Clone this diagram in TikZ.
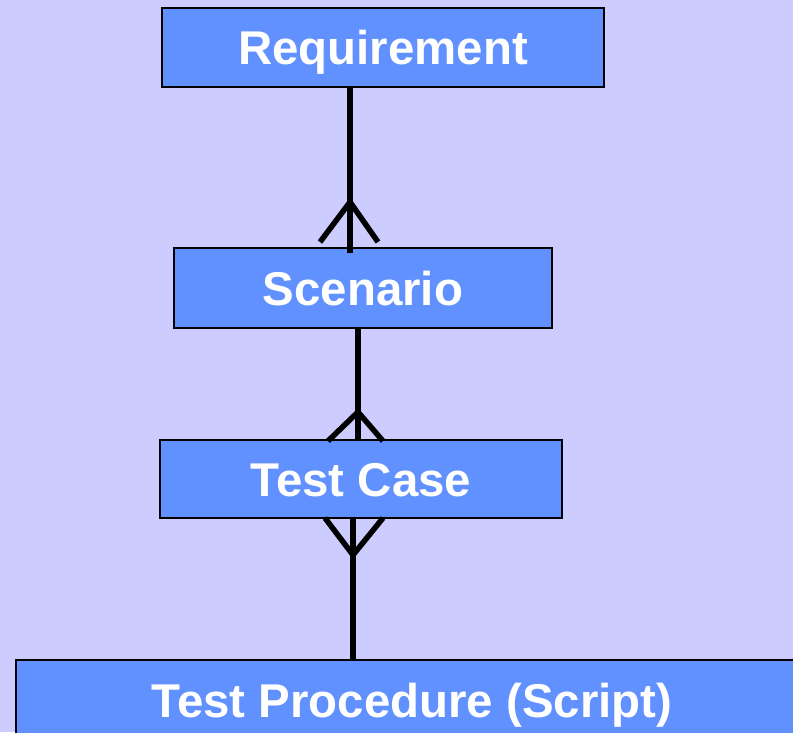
\documentclass[tikz,border=0pt]{standalone}
\usepackage{fontspec}
\setmainfont{Liberation Sans}
\definecolor{bgcol}{HTML}{CCCCFF}
\definecolor{boxcol}{HTML}{6191FF}
\begin{document}
\begin{tikzpicture}[x=1pt,y=-1pt,
  entity/.style={draw=black,line width=2pt,fill=boxcol,inner sep=0pt,
    text height=34pt,text depth=0pt,
    text=white,font=\fontsize{47.4}{50}\selectfont\bfseries},
  link/.style={draw=black,line width=5.5pt}]
  \useasboundingbox (0,0) rectangle (793,732);
  \clip (0,0) rectangle (793,732);
  \fill[bgcol] (0,0) rectangle (793,732);

  % entities
  \node[entity,minimum width=442pt,minimum height=79pt] (req) at (383,47.5) {Requirement};
  \node[entity,minimum width=378pt,minimum height=80pt] (scen) at (363,288) {Scenario};
  \node[entity,minimum width=402pt,minimum height=78pt] (tc) at (361,479) {Test Case};
  \node[entity,minimum width=792pt,minimum height=80pt] (tp) at (412,700) {Test Procedure (Script)};

  % connector columns
  \coordinate (c1) at (350,0);
  \coordinate (c2) at (358,0);
  \coordinate (c3) at (353,0);

  % Requirement -- Scenario (many at Scenario)
  \draw[link] (req.south -| c1) -- ([yshift=-6pt]scen.north -| c1);
  \coordinate (a1) at (350,202);
  \draw[link] (a1) -- (320,242);
  \draw[link] (a1) -- (378,242);

  % Scenario -- Test Case (many at Test Case)
  \draw[link] (scen.south -| c2) -- (tc.north -| c2);
  \coordinate (a2) at (358,412);
  \draw[link] (a2) -- (328,441);
  \draw[link] (a2) -- (383,441);

  % Test Case -- Test Procedure (many at Test Case)
  \draw[link] (tc.south -| c3) -- (tp.north -| c3);
  \coordinate (a3) at (353,555);
  \draw[link] (a3) -- (325,518);
  \draw[link] (a3) -- (383,518);
\end{tikzpicture}
\end{document}
